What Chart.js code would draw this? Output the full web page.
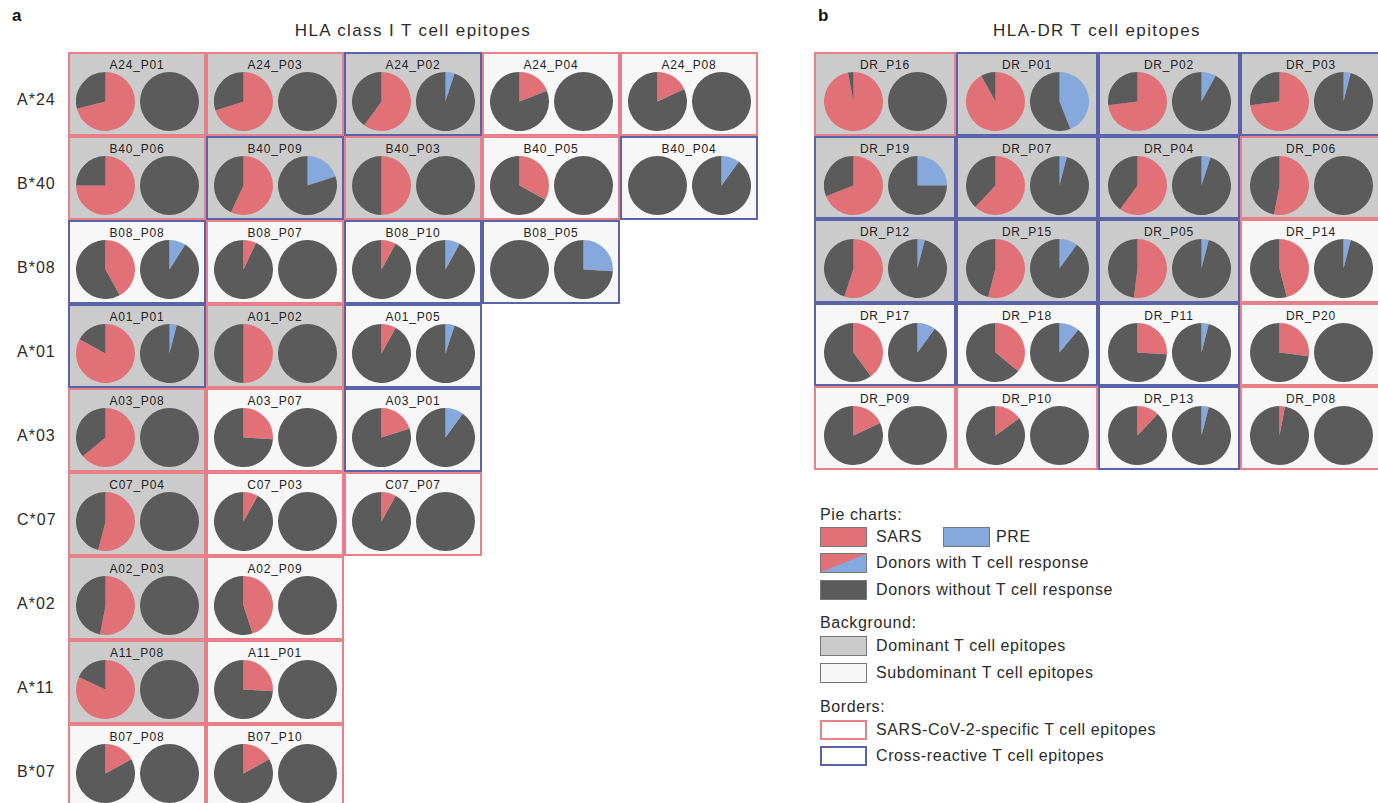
<!DOCTYPE html>
<html>
<head>
<meta charset="utf-8">
<script src="https://cdn.jsdelivr.net/npm/chart.js@4.4.0/dist/chart.umd.min.js"></script>
<style>
  body { margin: 0; width: 1378px; height: 803px; background: #fff; font-family: "Liberation Sans", Arial, sans-serif; color: #2b2b2b; position: relative; overflow: hidden; }
  .abs { position: absolute; }
  .panel { font-weight: bold; font-size: 17px; color: #111; }
  .title { font-size: 17px; letter-spacing: 1.4px; text-align: center; transform: translateX(-50%); white-space: nowrap; }
  .rowlab { font-size: 16px; letter-spacing: 1px; left: 17px; transform: translateY(-50%); }
  .cell { position: absolute; box-sizing: border-box; border: 2px solid; }
  .cell .lab { position: absolute; left: 0; right: 0; top: 4px; text-align: center; font-size: 12px; letter-spacing: 0.8px; line-height: 14px; color: #222; }
  .cell .pies { position: absolute; left: 0; right: 0; top: 18px; display: flex; justify-content: center; gap: 5px; }
  .cell canvas { width: 59px; height: 59px; }
  .leg { font-size: 16px; letter-spacing: 0.6px; white-space: nowrap; }
  .sw { position: absolute; width: 45px; height: 18px; border: 1px solid #777; }
</style>
</head>
<body>
<div class="abs panel" style="left:12px;top:6px">a</div>
<div class="abs panel" style="left:818px;top:6px">b</div>
<div class="abs title" style="left:413px;top:21px">HLA class I T cell epitopes</div>
<div class="abs title" style="left:1097px;top:21px">HLA-DR T cell epitopes</div>
<div id="gridA"></div>
<div id="gridB"></div>
<div id="legend"></div>
<script>
// Panel a – HLA class I
const allelesA = ['A*24', 'B*40', 'B*08', 'A*01', 'A*03', 'C*07', 'A*02', 'A*11', 'B*07'];
const epitopesA = [
  ['A24_P01', 'A24_P03', 'A24_P02', 'A24_P04', 'A24_P08'],
  ['B40_P06', 'B40_P09', 'B40_P03', 'B40_P05', 'B40_P04'],
  ['B08_P08', 'B08_P07', 'B08_P10', 'B08_P05'],
  ['A01_P01', 'A01_P02', 'A01_P05'],
  ['A03_P08', 'A03_P07', 'A03_P01'],
  ['C07_P04', 'C07_P03', 'C07_P07'],
  ['A02_P03', 'A02_P09'],
  ['A11_P08', 'A11_P01'],
  ['B07_P08', 'B07_P10']
];
// fraction of donors with T cell response
const sarsA = [
  [0.71, 0.70, 0.60, 0.19, 0.18],
  [0.75, 0.57, 0.50, 0.33, 0],
  [0.42, 0.07, 0.08, 0],
  [0.83, 0.50, 0.08],
  [0.64, 0.26, 0.20],
  [0.54, 0.08, 0.08],
  [0.53, 0.45],
  [0.82, 0.26],
  [0.17, 0.17]
];
const preA = [
  [0, 0, 0.05, 0, 0],
  [0, 0.20, 0, 0, 0.10],
  [0.09, 0, 0.08, 0.26],
  [0.04, 0, 0.05],
  [0, 0, 0.10],
  [0, 0, 0],
  [0, 0],
  [0, 0],
  [0, 0]
];
const dominantA = [
  [1, 1, 1, 0, 0],
  [1, 1, 1, 0, 0],
  [0, 0, 0, 0],
  [1, 1, 0],
  [1, 0, 0],
  [1, 0, 0],
  [1, 0],
  [1, 0],
  [0, 0]
];
const crossA = [
  [0, 0, 1, 0, 0],
  [0, 1, 0, 0, 1],
  [1, 0, 1, 1],
  [1, 0, 1],
  [0, 0, 1],
  [0, 0, 0],
  [0, 0],
  [0, 0],
  [0, 0]
];

// Panel b – HLA-DR
const epitopesB = [
  ['DR_P16', 'DR_P01', 'DR_P02', 'DR_P03'],
  ['DR_P19', 'DR_P07', 'DR_P04', 'DR_P06'],
  ['DR_P12', 'DR_P15', 'DR_P05', 'DR_P14'],
  ['DR_P17', 'DR_P18', 'DR_P11', 'DR_P20'],
  ['DR_P09', 'DR_P10', 'DR_P13', 'DR_P08']
];
const sarsB = [
  [0.97, 0.92, 0.73, 0.73],
  [0.69, 0.62, 0.60, 0.53],
  [0.55, 0.54, 0.52, 0.46],
  [0.40, 0.36, 0.26, 0.27],
  [0.18, 0.15, 0.12, 0.03]
];
const preB = [
  [0, 0.44, 0.08, 0.04],
  [0.25, 0.04, 0.05, 0],
  [0.04, 0.10, 0.04, 0.04],
  [0.10, 0.11, 0.04, 0],
  [0, 0, 0.04, 0]
];
const dominantB = [
  [1, 1, 1, 1],
  [1, 1, 1, 1],
  [1, 1, 1, 0],
  [0, 0, 0, 0],
  [0, 0, 0, 0]
];
const crossB = [
  [0, 1, 1, 1],
  [1, 1, 1, 0],
  [1, 1, 1, 0],
  [1, 1, 1, 0],
  [0, 0, 1, 0]
];

const RED = '#e27077', BLUE = '#86a9dd', GREY = '#5b5b5b';
const BG_DOM = '#cbcbcb', BG_SUB = '#f7f7f7';
const BORDER_RED = '#e8808a', BORDER_BLUE = '#5a62aa';

function pie(canvas, value, color) {
  new Chart(canvas, {
    type: 'pie',
    data: {
      labels: ['with response', 'without response'],
      datasets: [{ data: [value, 1 - value], backgroundColor: [color, GREY], borderWidth: 0 }]
    },
    options: {
      responsive: false, animation: false, events: [],
      layout: { padding: 0 },
      plugins: { legend: { display: false }, tooltip: { enabled: false } }
    }
  });
}

function grid(root, x0, y0, w, h, names, sars, pre, dom, cross) {
  names.forEach((row, i) => {
    row.forEach((name, j) => {
      const c = document.createElement('div');
      c.className = 'cell';
      c.style.left = (x0 + j * w) + 'px';
      c.style.top = (y0 + i * h) + 'px';
      c.style.width = w + 'px';
      c.style.height = h + 'px';
      c.style.background = dom[i][j] ? BG_DOM : BG_SUB;
      c.style.borderColor = cross[i][j] ? BORDER_BLUE : BORDER_RED;
      c.innerHTML = `<div class="lab">${name}</div><div class="pies"><canvas width="59" height="59"></canvas><canvas width="59" height="59"></canvas></div>`;
      root.appendChild(c);
      const cv = c.querySelectorAll('canvas');
      pie(cv[0], sars[i][j], RED);
      pie(cv[1], pre[i][j], BLUE);
    });
  });
}

const gA = document.getElementById('gridA');
grid(gA, 68, 52, 138, 84, epitopesA, sarsA, preA, dominantA, crossA);
allelesA.forEach((a, i) => {
  const d = document.createElement('div');
  d.className = 'abs rowlab';
  d.style.top = (52 + i * 84 + 48) + 'px';
  d.textContent = a;
  gA.appendChild(d);
});
grid(document.getElementById('gridB'), 814, 52, 142, 83.6, epitopesB, sarsB, preB, dominantB, crossB);

// Legend
const legendItems = [
  { head: 'Pie charts:', y: 515 },
  { sw: RED, text: 'SARS', y: 537, sw2: BLUE, text2: 'PRE' },
  { sw: `linear-gradient(to bottom right, ${RED} 50%, ${BLUE} 50%)`, text: 'Donors with T cell response', y: 563 },
  { sw: GREY, text: 'Donors without T cell response', y: 590 },
  { head: 'Background:', y: 623 },
  { sw: BG_DOM, text: 'Dominant T cell epitopes', y: 646 },
  { sw: BG_SUB, text: 'Subdominant T cell epitopes', y: 673 },
  { head: 'Borders:', y: 707 },
  { sw: '#fff', border: BORDER_RED, text: 'SARS-CoV-2-specific T cell epitopes', y: 730 },
  { sw: '#fff', border: BORDER_BLUE, text: 'Cross-reactive T cell epitopes', y: 756 }
];
const lg = document.getElementById('legend');
legendItems.forEach(it => {
  if (it.head) {
    lg.insertAdjacentHTML('beforeend', `<div class="abs leg" style="left:820px;top:${it.y - 9}px">${it.head}</div>`);
    return;
  }
  const bd = it.border ? `border:2px solid ${it.border};width:43px;height:16px;` : '';
  lg.insertAdjacentHTML('beforeend', `<div class="sw" style="left:820px;top:${it.y - 10}px;background:${it.sw};${bd}"></div>`);
  lg.insertAdjacentHTML('beforeend', `<div class="abs leg" style="left:876px;top:${it.y - 9}px">${it.text}</div>`);
  if (it.sw2) {
    lg.insertAdjacentHTML('beforeend', `<div class="sw" style="left:943px;top:${it.y - 10}px;background:${it.sw2}"></div>`);
    lg.insertAdjacentHTML('beforeend', `<div class="abs leg" style="left:996px;top:${it.y - 9}px">${it.text2}</div>`);
  }
});
</script>
</body>
</html>
